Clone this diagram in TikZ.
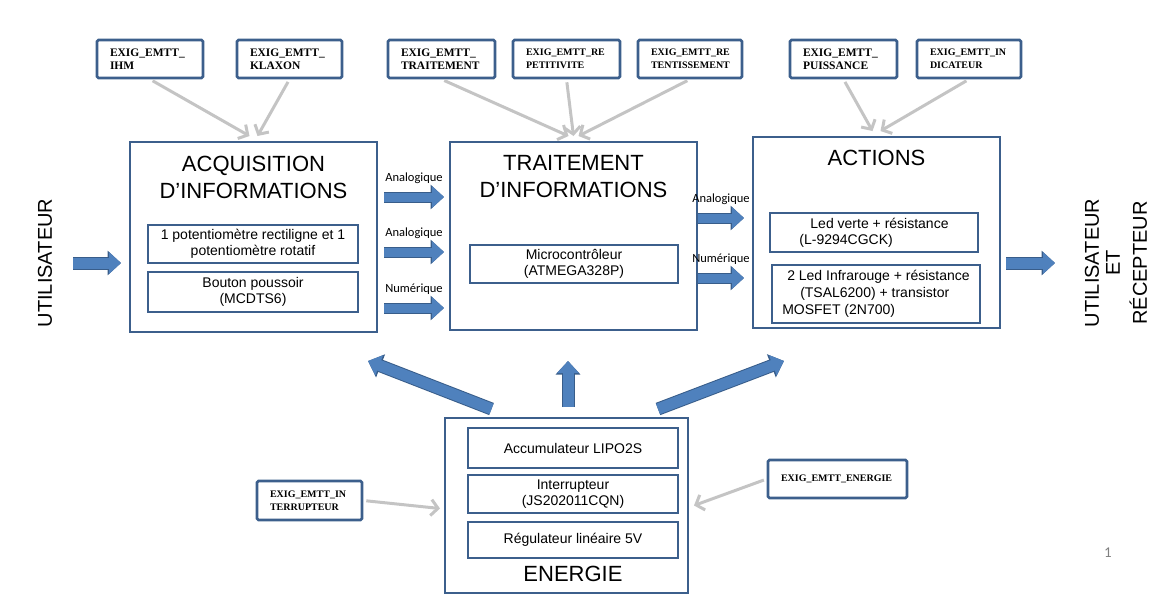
\documentclass[tikz,border=0pt]{standalone}
\usepackage{fontspec}
\setmainfont{Liberation Sans}
\newfontfamily\tagfont{Liberation Serif}
\newfontfamily\lblfont{Carlito}
\usetikzlibrary{positioning, arrows.meta, calc}
\definecolor{boxblue}{RGB}{60,95,140}
\definecolor{arrowblue}{RGB}{79,129,189}
\definecolor{arrowedge}{RGB}{56,93,138}
\definecolor{linkgrey}{RGB}{196,196,196}
\tikzset{
  block/.style    = {draw=boxblue, line width=2pt, fill=white, inner sep=0pt},
  part/.style     = {draw=boxblue, line width=2.8pt, inner sep=0pt, align=center, font=\fontsize{14}{16}\selectfont},
  titre/.style    = {align=center, font=\fontsize{22}{27}\selectfont},
  tag/.style      = {draw=boxblue, line width=2.6pt, rounded corners=1.5pt, fill=white, inner xsep=13pt, inner ysep=0pt, minimum height=38pt, align=left, font=\tagfont\bfseries\fontsize{11.5}{13}\selectfont},
  smalltag/.style = {tag, font=\tagfont\bfseries\fontsize{10}{13}\selectfont},
  link/.style     = {draw=linkgrey, line width=3pt, -{Straight Barb[length=7pt,width=16pt]}, shorten <=3pt},
  fat/.style      = {draw=arrowblue, line width=#1, -{Triangle[length=12pt,width=21pt]},
                     preaction={draw=arrowedge, line width=#1+2pt, -{Triangle[length=13.5pt,width=24pt]}}},
  fat/.default    = 9pt,
  sens/.style     = {font=\lblfont\fontsize{12.5}{14}\selectfont},
  side/.style     = {rotate=90, align=center, font=\fontsize{20}{21}\selectfont}
}
\begin{document}
\begin{tikzpicture}[x=1pt, y=-1pt]
  \useasboundingbox (0,0) rectangle (1152,606);

  \node[block, minimum width=247pt, minimum height=190pt] (acq) at (253.5,237) {};
  \node[block, minimum width=247pt, minimum height=188pt] (trait) at (573.5,236) {};
  \node[block, minimum width=247pt, minimum height=191pt] (act) at (876.5,232.5) {};
  \node[block, minimum width=243pt, minimum height=175pt] (energie) at (566.5,505.5) {};

  \node[titre] (acqT) at (253.5,177) {ACQUISITION\\D’INFORMATIONS};
  \node[titre] (traitT) at (573.5,177) {TRAITEMENT\\D’INFORMATIONS};
  \node[titre] (actT) at (876.5,158) {ACTIONS};
  \node[titre] (energieT) at (573,574) {ENERGIE};

  \node[part, minimum width=210pt, minimum height=38pt] (pot) at (253,244) {1 potentiomètre rectiligne et 1\\potentiomètre rotatif};
  \node[part, minimum width=210pt, minimum height=40pt] (bp) at (253,292) {Bouton poussoir\\(MCDTS6)};
  \node[part, minimum width=208pt, minimum height=38pt] (mcu) at (574,264) {Microcontrôleur\\(ATMEGA328P)};
  \node[part, minimum width=208pt, minimum height=39pt, align=left] (ledv) at (874,232.5) {\hspace*{11pt}Led verte + résistance\\(L-9294CGCK)};
  \node[part, minimum width=208pt, minimum height=58pt, align=left, font=\fontsize{14}{17}\selectfont] (ledir) at (876,294) {\hspace*{5pt}2 Led Infrarouge + résistance\\\hspace*{18pt}(TSAL6200) + transistor\\MOSFET (2N700)};
  \node[part, minimum width=210pt, minimum height=40pt] (accu) at (573,448) {Accumulateur LIPO2S};
  \node[part, minimum width=210pt, minimum height=38pt] (inter) at (573,494) {Interrupteur\\(JS202011CQN)};
  \node[part, minimum width=210pt, minimum height=36pt] (regul) at (573,540) {Régulateur linéaire 5V};

  \node[side] (util) at (45,263) {UTILISATEUR};
  \node[side] (dest) at (1116,263) {UTILISATEUR\\ET\\[6pt]RÉCEPTEUR};

  \node[tag, text width=80pt] (t1) at (150,59) {EXIG\_EMTT\_\\IHM};
  \node[tag, text width=79pt] (t2) at (289.5,59) {EXIG\_EMTT\_\\KLAXON};
  \node[tag, text width=81pt] (t3) at (441.5,59) {EXIG\_EMTT\_\\TRAITEMENT};
  \node[smalltag, text width=81pt] (t4) at (566.5,59) {EXIG\_EMTT\_RE\\PETITIVITE};
  \node[smalltag, text width=78pt] (t5) at (690,59) {EXIG\_EMTT\_RE\\TENTISSEMENT};
  \node[tag, text width=81pt] (t6) at (843.5,59) {EXIG\_EMTT\_\\PUISSANCE};
  \node[smalltag, text width=78pt] (t7) at (969,59) {EXIG\_EMTT\_IN\\DICATEUR};
  \node[smalltag, text width=79pt, minimum height=39pt] (t8) at (309.5,500.5) {EXIG\_EMTT\_IN\\TERRUPTEUR};
  \node[smalltag, text width=113pt] (t9) at (837.5,479) {EXIG\_EMTT\_ENERGIE};

  \node[font=\lblfont\fontsize{15}{15}\selectfont, text=gray] (page) at (1108,553) {1};

  \draw[link] (t1.south) -- ($(acq.north)+(-4,-5)$);
  \draw[link] (t2.south) -- ($(acq.north)+(4,-5)$);
  \draw[link] (t3.south) -- ($(trait.north)+(-5,-5)$);
  \draw[link] (t4.south) -- ($(trait.north)+(0,-5)$);
  \draw[link] (t5.south) -- ($(trait.north)+(5,-5)$);
  \draw[link] (t6.south) -- ($(act.north)+(-4,-5)$);
  \draw[link] (t7.south) -- ($(act.north)+(4,-5)$);
  \draw[link] (t8.east) -- ($(energie.west)+(-4,3)$);
  \draw[link] (t9.west) -- ($(energie.east)+(5,0)$);

  \draw[fat=11pt] ($(util.center)+(28,0)$) -- ($(acq.west |- util.center)+(-8,0)$);
  \draw[fat=11pt] ($(act.east |- dest.center)+(5,0)$) -- ($(dest.center)+(-61,0)$);

  \foreach \y/\txt in {197/Analogique, 252/Analogique, 308/Numérique}
    \draw[fat] ($(acq.east |- 0,\y)+(6,0)$) -- node[sens, above=6pt] (in\y) {\txt} ($(trait.west |- 0,\y)+(-5,0)$);
  \foreach \y/\txt in {218/Analogique, 278/Numérique}
    \draw[fat] (trait.east |- 0,\y) -- node[sens, above=6pt] (out\y) {\txt} ($(act.west |- 0,\y)+(-8,0)$);

  \draw[fat=11pt] ($(energie.north)+(-75,-8)$) -- ($(acq.south east)+(-10,28)$);
  \draw[fat=11pt] ($(energie.north)+(1.5,-10)$) -- ($(trait.south)+(-5.5,30)$);
  \draw[fat=11pt] ($(energie.north)+(91.5,-8)$) -- ($(act.south west)+(32,32)$);
\end{tikzpicture}
\end{document}
